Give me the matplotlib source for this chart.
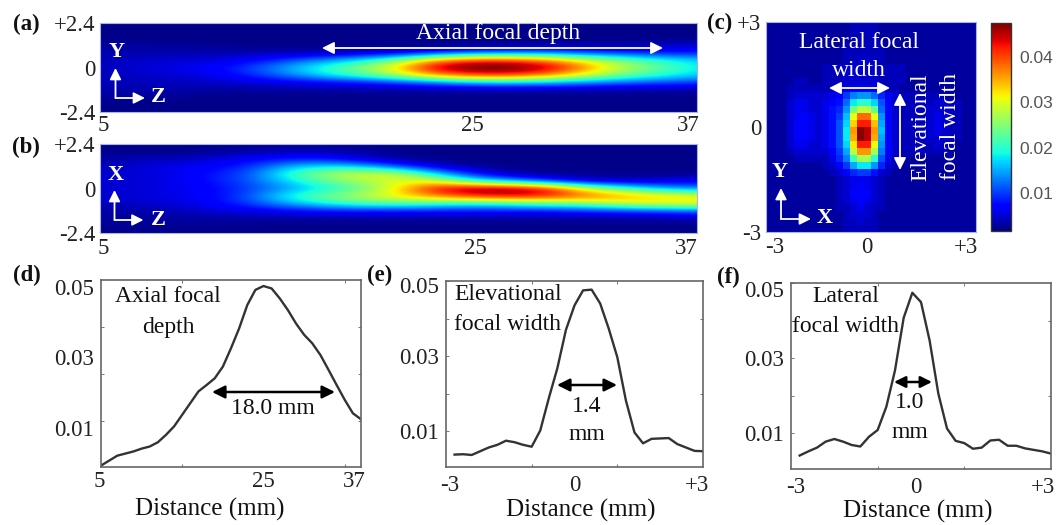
import numpy as np
import matplotlib
matplotlib.use("Agg")
import matplotlib.pyplot as plt
from matplotlib.transforms import ScaledTranslation

plt.rcParams['font.family'] = ['Liberation Serif', 'DejaVu Serif']

W, H = 1058, 525
VMIN, VMAX = 0.0016, 0.0475

# (a) Y-Z map, 1e-3 units, rows +2.4 -> -2.4, columns z = 5, 7 ... 37
map_yz = [
    [2, 2, 2, 2, 2, 2, 2, 2, 2, 2, 2, 2, 2, 2, 2, 2, 2],
    [2, 2, 2, 2, 2, 2, 2, 2, 2, 2, 2, 2, 2, 2, 2, 2, 2],
    [2, 2, 2, 2, 2, 2, 2, 2, 2, 2, 2, 2, 2, 2, 2, 2, 2],
    [3, 3, 2.5, 2.5, 2, 2, 2, 2, 2, 2, 2, 2, 3, 3, 3, 4, 5],
    [3.5, 3.5, 3.5, 3.5, 3.5, 3.5, 3.5, 4, 5, 8, 11, 12, 12, 10, 9, 8, 8],
    [4, 4.5, 5, 5, 7, 10, 14, 18, 25, 36, 41, 41, 37, 30, 24, 20, 17],
    [4, 5, 6, 7, 10, 15, 20, 25, 33, 46, 50, 50, 46, 37, 28, 23, 18],
    [4, 4.5, 5, 6, 9, 13, 18, 22, 28, 36, 41, 41, 37, 30, 24, 20, 17],
    [4, 4, 4, 4.5, 5, 6, 7, 8, 10, 13, 16, 17, 16, 14, 12, 11, 10],
    [3.5, 3.5, 3.5, 3, 3, 3, 3, 3, 3, 3, 3, 3, 3, 3, 3, 3, 3],
    [3, 2.5, 2.5, 2, 2, 2, 2, 2, 2, 2, 2, 2, 2, 2, 2, 2, 2],
    [2, 2, 2, 2, 2, 2, 2, 2, 2, 2, 2, 2, 2, 2, 2, 2, 2],
    [2, 2, 2, 2, 2, 2, 2, 2, 2, 2, 2, 2, 2, 2, 2, 2, 2],
]

# (b) X-Z map, same grid
map_xz = [
    [2, 2, 2, 2, 2, 2, 2, 2, 2, 2, 2, 2, 2, 2, 2, 2, 2],
    [2, 2, 2, 2.5, 3, 4, 4, 3, 2, 2, 2, 2, 2, 2, 2, 2, 2],
    [3, 4, 4, 5, 7, 8, 8, 5, 3, 2, 2, 2, 2, 2, 2, 2, 2],
    [4, 5, 6, 7, 9, 15, 18, 16, 10, 5, 2.5, 2, 2, 2, 2, 2, 2],
    [5, 5, 6, 8, 11, 20, 26, 30, 29, 17, 8, 3, 2.5, 2, 2, 2, 2],
    [5, 5, 6, 8, 11, 17, 23, 27, 30, 30, 20, 15, 9, 5, 4, 5, 7],
    [5, 5, 6, 7, 10, 14, 18, 23, 32, 44, 48, 48, 44, 30, 22, 16, 13],
    [5, 5, 6, 7, 11, 19, 24, 28, 32, 37, 42, 44, 42, 39, 36, 33, 31],
    [4, 5, 5, 7, 10, 15, 19, 22, 23, 21, 19, 21, 23, 25, 29, 31, 32],
    [3, 3, 4, 5, 6, 7, 8, 8, 8, 8, 8, 8, 8, 9, 10, 11, 12],
    [3, 3, 3, 3, 3, 3, 3, 3, 3, 3, 3, 3, 3, 3, 3, 3, 4],
    [2.5, 2.5, 2.5, 2.5, 2.5, 2, 2, 2, 2, 2, 2, 2, 2, 2, 2, 2, 2],
    [2, 2, 2, 2, 2, 2, 2, 2, 2, 2, 2, 2, 2, 2, 2, 2, 2],
]

# (c) X-Y map, 30 x 30 cells, 1e-3 units
map_xy = [
    [3, 3, 3, 3, 3, 3, 3, 3, 3, 3, 3, 3, 4, 4, 4, 4, 3, 3, 3, 3, 3, 3, 3, 3, 3, 3, 3, 3, 3, 3],
    [3, 3, 3, 3, 3, 3, 3, 3, 3, 3, 3, 3, 4, 4, 4, 4, 3, 3, 3, 3, 3, 3, 3, 3, 3, 3, 3, 3, 3, 3],
    [3, 3, 3, 3, 3, 3, 3, 3, 3, 3, 3, 3, 4, 4, 4, 4, 3, 3, 3, 3, 3, 3, 3, 3, 3, 3, 3, 3, 3, 3],
    [3, 3, 3, 3, 3, 3, 3, 3, 3, 3, 3, 4, 4, 4, 4, 4, 4, 3, 3, 3, 3, 3, 3, 3, 3, 3, 3, 3, 3, 3],
    [3, 3, 3, 3, 3, 3, 3, 3, 3, 3, 3, 4, 4, 4, 4, 4, 4, 3, 3, 3, 3, 3, 3, 3, 3, 3, 3, 3, 3, 3],
    [3, 3, 3, 3, 3, 3, 3, 3, 3, 3, 3, 4, 4, 5, 5, 4, 4, 3, 3, 3, 3, 3, 3, 3, 3, 3, 3, 3, 3, 3],
    [3, 3, 3, 3, 3, 3, 3, 3, 4, 4, 4, 5, 5, 5, 5, 5, 4, 4, 4, 4, 3, 3, 3, 3, 3, 3, 3, 3, 3, 3],
    [3, 3, 3, 3, 3, 3, 3, 3, 4, 4, 4, 5, 5, 5, 5, 5, 4, 4, 4, 4, 3, 3, 3, 3, 3, 3, 3, 3, 3, 3],
    [3, 3, 3, 3, 4, 4, 3, 3, 4, 4, 4, 5, 5, 5, 5, 5, 4, 4, 4, 4, 3, 3, 3, 3, 3, 3, 3, 3, 3, 3],
    [3, 3, 3, 4, 4, 4, 4, 4, 4, 4, 5, 6, 7, 7, 7, 6, 5, 4, 4, 3, 3, 3, 3, 3, 3, 3, 3, 3, 3, 3],
    [3, 3, 3, 4, 5, 5, 5, 5, 5, 6, 7, 10, 13, 14, 14, 12, 9, 6, 5, 4, 4, 4, 4, 4, 4, 4, 3, 3, 3, 3],
    [3, 3, 3, 5, 6, 6, 5, 5, 6, 7, 8, 12, 18, 20, 20, 17, 11, 7, 5, 4, 4, 4, 4, 4, 5, 5, 4, 4, 3, 3],
    [3, 3, 3, 5, 6, 6, 5, 5, 6, 8, 9, 14, 24, 28, 28, 23, 12, 7, 5, 4, 4, 4, 4, 5, 5, 5, 4, 4, 3, 3],
    [3, 3, 3, 5, 6, 7, 6, 5, 6, 8, 10, 16, 31, 38, 38, 31, 14, 7, 5, 4, 4, 4, 4, 5, 6, 5, 4, 4, 3, 3],
    [3, 3, 3, 5, 7, 7, 6, 5, 6, 8, 11, 17, 33, 42, 42, 34, 15, 7, 5, 4, 4, 4, 4, 5, 6, 5, 4, 4, 3, 3],
    [3, 3, 3, 5, 7, 7, 6, 5, 6, 8, 11, 18, 36, 47, 45, 36, 16, 7, 5, 4, 4, 4, 4, 5, 6, 5, 4, 4, 3, 3],
    [3, 3, 3, 5, 7, 7, 6, 5, 6, 8, 11, 18, 35, 47, 45, 35, 15, 7, 5, 4, 4, 4, 4, 5, 5, 5, 4, 4, 3, 3],
    [3, 3, 3, 5, 6, 6, 5, 5, 6, 8, 11, 17, 32, 42, 42, 31, 14, 7, 5, 4, 4, 4, 4, 4, 5, 4, 4, 3, 3, 3],
    [3, 3, 3, 4, 5, 5, 5, 5, 5, 7, 10, 15, 28, 36, 36, 27, 13, 7, 5, 4, 4, 4, 4, 4, 4, 4, 3, 3, 3, 3],
    [3, 3, 3, 3, 4, 4, 4, 4, 4, 6, 9, 13, 21, 27, 27, 20, 11, 6, 4, 4, 3, 3, 3, 3, 3, 3, 3, 3, 3, 3],
    [3, 3, 3, 3, 3, 3, 3, 3, 4, 5, 7, 10, 15, 18, 18, 14, 9, 5, 4, 3, 3, 3, 3, 3, 3, 3, 3, 3, 3, 3],
    [3, 3, 3, 3, 3, 3, 3, 3, 3, 4, 5, 7, 9, 10, 10, 8, 5, 4, 3, 3, 3, 3, 3, 3, 3, 3, 3, 3, 3, 3],
    [3, 3, 3, 3, 3, 3, 3, 3, 3, 3, 4, 5, 6, 6, 6, 5, 4, 3, 3, 3, 3, 3, 3, 3, 3, 3, 3, 3, 3, 3],
    [3, 3, 3, 3, 3, 3, 3, 3, 3, 3, 4, 5, 6, 7, 6, 5, 4, 3, 3, 3, 3, 3, 3, 3, 3, 3, 3, 3, 3, 3],
    [3, 3, 3, 3, 3, 3, 3, 3, 3, 3, 4, 5, 7, 7, 7, 5, 4, 3, 3, 3, 3, 3, 3, 3, 3, 3, 3, 3, 3, 3],
    [3, 3, 3, 3, 3, 3, 3, 3, 3, 3, 4, 5, 6, 7, 6, 5, 4, 3, 3, 3, 3, 3, 3, 3, 3, 3, 3, 3, 3, 3],
    [3, 3, 3, 3, 3, 3, 3, 3, 3, 3, 4, 4, 5, 6, 5, 4, 4, 3, 3, 3, 3, 3, 3, 3, 3, 3, 3, 3, 3, 3],
    [3, 3, 3, 3, 3, 3, 3, 3, 3, 3, 3, 4, 5, 5, 5, 4, 3, 3, 3, 3, 3, 3, 3, 3, 3, 3, 3, 3, 3, 3],
    [3, 3, 3, 3, 3, 3, 3, 3, 3, 3, 3, 4, 4, 5, 4, 4, 3, 3, 3, 3, 3, 3, 3, 3, 3, 3, 3, 3, 3, 3],
    [3, 3, 3, 3, 3, 3, 3, 3, 3, 3, 3, 4, 4, 4, 4, 4, 3, 3, 3, 3, 3, 3, 3, 3, 3, 3, 3, 3, 3, 3],
]

# line profiles
axial_x = [5, 6, 7, 8, 9, 10, 11, 12, 13, 14, 15, 16, 17, 18, 19, 20, 21, 22, 23, 24, 25,
           26, 27, 28, 29, 30, 31, 32, 33, 34, 35, 36, 37]
axial_y = [-0.0006, 0.0008, 0.0022, 0.0028, 0.0034, 0.0042, 0.0048, 0.0060, 0.0081, 0.0105,
           0.0138, 0.0171, 0.0204, 0.0222, 0.0241, 0.0274, 0.0326, 0.0382, 0.0448, 0.0491,
           0.0502, 0.0495, 0.0467, 0.0434, 0.0396, 0.0364, 0.0340, 0.0307, 0.0265, 0.0222,
           0.0180, 0.0142, 0.0125]

width_x = [-2.8, -2.6, -2.4, -2.2, -2.0, -1.8, -1.6, -1.4, -1.2, -1.0, -0.8, -0.6, -0.4, -0.2, 0,
           0.2, 0.4, 0.6, 0.8, 1.0, 1.2, 1.4, 1.6, 1.8, 2.0, 2.2, 2.4, 2.6, 2.8, 3.0]
elev_y = [0.0038, 0.0039, 0.0037, 0.0047, 0.0057, 0.0064, 0.0075, 0.0071, 0.0064, 0.0059,
          0.0102, 0.0188, 0.0268, 0.0370, 0.0435, 0.0475, 0.0477, 0.0440, 0.0373, 0.0297,
          0.0182, 0.0097, 0.0068, 0.0080, 0.0081, 0.0082, 0.0066, 0.0057, 0.0048, 0.0047]
lat_y = [0.0040, 0.0051, 0.0061, 0.0077, 0.0084, 0.0077, 0.0068, 0.0064, 0.0090, 0.0108,
         0.0170, 0.0267, 0.0407, 0.0474, 0.0449, 0.0346, 0.0205, 0.0112, 0.0079, 0.0073,
         0.0058, 0.0061, 0.0080, 0.0082, 0.0066, 0.0066, 0.0059, 0.0055, 0.0051, 0.0045]

fig = plt.figure(figsize=(W / 100, H / 100), dpi=100)

def box(x0, y0, x1, y1):
    # picture pixels to figure fraction
    return [x0 / W, 1 - y1 / H, (x1 - x0) / W, (y1 - y0) / H]

def nudge(labels, shifts):
    # move tick labels by picture pixels
    for lab, (dx, dy) in zip(labels, shifts):
        lab.set_transform(lab.get_transform() + ScaledTranslation(dx / 100, -dy / 100, fig.dpi_scale_trans))

def heat(rect, data, ext, xlim, ylim, interp="bicubic"):
    ax = fig.add_axes(box(*rect))
    im = ax.imshow(np.array(data) / 1000, cmap="jet", vmin=VMIN, vmax=VMAX, extent=ext, aspect="auto",
                   interpolation=interp)
    ax.set_xlim(xlim)
    ax.set_ylim(ylim)
    for s in ax.spines.values():
        s.set_color("#a9b4e0")
        s.set_linewidth(0.8)
    ax.tick_params(length=0, labelsize=16.5, pad=3.5, labelcolor="#222222")
    return ax, im

z_ticks = [5, 25, 37]
z_labels = ["5", "25", "37"]

axa, im = heat((100, 23, 697, 112), map_yz, [4, 38, -2.6, 2.6], (5, 37), (-2.4, 2.4))
axa.set_xticks(z_ticks, z_labels)
axa.set_yticks([-2.4, 0, 2.4], ["-2.4", "0", "+2.4"])
nudge(axa.get_xticklabels(), [(3, -2), (-1, -2), (-9, -2)])

axb, _ = heat((100, 144, 697, 233), map_xz, [4, 38, -2.6, 2.6], (5, 37), (-2.4, 2.4))
axb.set_xticks(z_ticks, z_labels)
axb.set_yticks([-2.4, 0, 2.4], ["-2.4", "0", "+2.4"])
nudge(axb.get_xticklabels(), [(3, 0), (2, 0), (-11, 0)])

axc, _ = heat((766, 22, 976, 232), map_xy, [-3, 3, -3, 3], (-3, 3), (-3, 3), interp="nearest")
axc.set_xticks([-3, 0, 3], ["-3", "0", "+3"])
axc.set_yticks([-3, 0, 3], ["-3", "0", "+3"])
nudge(axc.get_xticklabels(), [(9, 0), (-4, 0), (-10, 0)])

cax = fig.add_axes(box(991, 23, 1011, 231))
cb = fig.colorbar(im, cax=cax, ticks=[0.01, 0.02, 0.03, 0.04])
cb.ax.set_yticklabels(["0.01", "0.02", "0.03", "0.04"], family="Liberation Sans", color="#555555", fontsize=12.5)
cb.ax.tick_params(length=0, pad=6)
cb.outline.set_edgecolor("#333333")
cb.outline.set_linewidth(1.0)

def profile(rect, x, y, xlim, ylim, xticks, xlabels, shifts, xminor, yminor, yshifts, ylen):
    ax = fig.add_axes(box(*rect))
    ax.plot(x, y, color="#333333", lw=1.7)
    ax.set_xlim(xlim)
    ax.set_ylim(ylim)
    ax.set_xticks(xticks, xlabels)
    ax.set_yticks([0.01, 0.03, 0.05], ["0.01", "0.03", "0.05"])
    ax.set_xticks(xminor, minor=True)
    ax.set_yticks(yminor, minor=True)
    ax.tick_params(which="minor", direction="in", length=2.5, width=0.7, color="#777777",
                   top=True, right=True)
    ax.tick_params(axis="x", which="major", length=0, labelsize=16.5, pad=6, labelcolor="#222222")
    ax.tick_params(axis="y", which="major", length=ylen, direction="in", width=0.7, color="#777777",
                   labelsize=16.5, pad=5, labelcolor="#222222")
    for s in ax.spines.values():
        s.set_color("#666666")
        s.set_linewidth(1.2)
    nudge(ax.get_xticklabels(), shifts)
    nudge(ax.get_yticklabels(), yshifts)
    return ax

profile((101, 280, 361, 467), axial_x, axial_y, (5, 37), (-0.0010, 0.0519), z_ticks, z_labels,
        [(-2, -4), (0, -4), (-7, -4)], [15, 35], [0.0119, 0.0252, 0.0387], [(0, 0), (0, 0), (0, 0)], 0)
profile((446, 281, 703, 467), width_x, elev_y, (-3, 3), (0.0005, 0.05), [-3, 0, 3], ["-3", "0", "+3"],
        [(4, 0), (0, 0), (-6, 0)], [-1, 1], [0.02, 0.04], [(0, 0), (0, 0), (0, 4)], 2.5)
profile((791, 283, 1051, 469), width_x, lat_y, (-3, 3), (0.0004, 0.05), [-3, 0, 3], ["-3", "0", "+3"],
        [(5, 0), (-5, 0), (-8, 0)], [-1, 1], [0.02, 0.04], [(0, 0), (0, 0), (0, 6)], 2.5)

# everything drawn over the panels is placed in picture pixels
top = fig.add_axes([0, 0, 1, 1])
top.set_xlim(0, W)
top.set_ylim(H, 0)
top.axis("off")

def arrow(x0, y0, x1, y1, color="white", both=True, lw=1.3, ms=18):
    style = "<|-|>" if both else "-|>"
    top.annotate("", xy=(x1, y1), xytext=(x0, y0),
                 arrowprops=dict(arrowstyle=style, color=color, lw=lw, mutation_scale=ms, shrinkA=0, shrinkB=0))

def label(x, y, s, color="#111111", size=17, **kw):
    top.text(x, y, s, color=color, fontsize=size, ha="center", va="center", **kw)

def axes_mark(cx, cy, up, right, a, b, ax_, ay_, bx_, by_):
    arrow(cx, cy, cx, up, both=False, ms=17)
    arrow(cx, cy, right, cy, both=False, ms=17)
    label(ax_, ay_, a, color="white", size=16, fontweight="bold")
    label(bx_, by_, b, color="white", size=16, fontweight="bold")

for s, x, y in [("(a)", 26, 24), ("(b)", 26, 147), ("(c)", 720, 23), ("(d)", 27, 275), ("(e)", 380, 275), ("(f)", 728, 277)]:
    label(x, y, s, size=16.5, fontweight="bold")

label(498, 33, "Axial focal depth", color="white")
arrow(322, 48, 663, 48)
axes_mark(115.5, 98, 68, 145, "Y", "Z", 117, 52, 158, 97)
axes_mark(114.5, 220, 190, 143.5, "X", "Z", 115.5, 175, 158, 220)

label(859, 42, "Lateral focal", color="white")
label(859, 71, "width", color="white")
arrow(829, 88, 890, 88)
arrow(900, 93, 900, 170)
label(921, 127, "Elevational", color="white", rotation=90)
label(951, 127, "focal width", color="white", rotation=90)
axes_mark(781, 219, 188, 811, "Y", "X", 780, 172, 825, 218)

label(168, 297, "Axial focal")
label(168, 327, "depth")
arrow(212, 392, 335, 392, color="black", lw=1.8, ms=19)
label(273, 409, "18.0 mm")
label(210, 509, "Distance (mm)", size=18)

label(508, 295, "Elevational")
label(508, 324, "focal width")
arrow(557, 385, 617, 385, color="black", lw=1.8, ms=19)
label(587, 406, "1.4")
label(587, 435, "mm")
label(581, 510, "Distance (mm)", size=18)

label(846, 297, "Lateral")
label(846, 326, "focal width")
arrow(894, 382, 932, 382, color="black", lw=1.8, ms=17)
label(910, 403, "1.0")
label(910, 433, "mm")
label(918, 511, "Distance (mm)", size=18)

fig.savefig("out.png", dpi=100)
